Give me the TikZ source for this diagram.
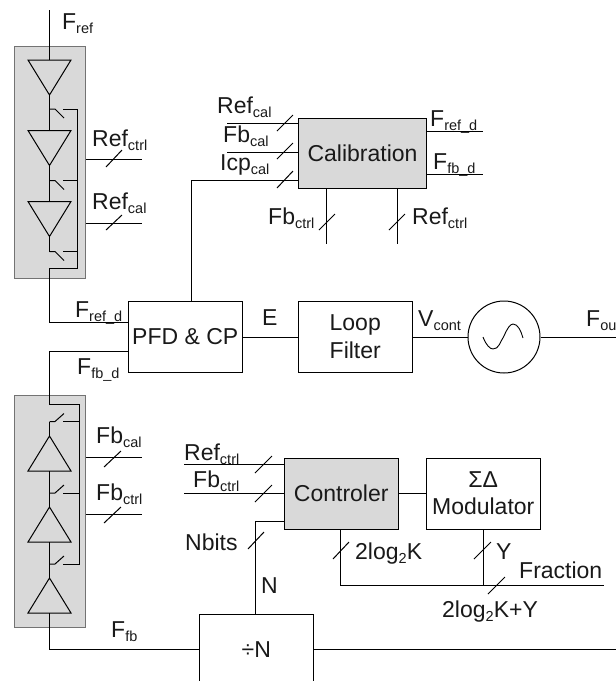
\documentclass[tikz,border=0pt]{standalone}
\usepackage{fontspec}
\setmainfont{Liberation Sans}
\usetikzlibrary{calc}
\newcommand\lowtxt[1]{\raisebox{-4.5pt}{\fontsize{14.5}{16}\selectfont #1}}
\newcommand\buffdown[3]{% name, x, top y
  \coordinate (#1-in) at (#2,#3);
  \coordinate (#1-out) at (#2,#3+35);
  \draw[gate] (#2-21.5,#3) -- (#2+21.5,#3) -- (#1-out) -- cycle;}
\newcommand\buffup[3]{% name, x, top y
  \coordinate (#1-out) at (#2,#3);
  \coordinate (#1-in) at (#2,#3+35);
  \draw[gate] (#2-21.5,#3+35) -- (#2+21.5,#3+35) -- (#1-out) -- cycle;}
\newcommand\switchdown[3]{% stem x, y, bus x
  \draw[wire] (#1,#2) -- (#1+5.5,#2) -- (#1+14.5,#2+9);
  \draw[wire] (#1+13.5,#2) -- (#3,#2);}
\newcommand\switchup[3]{%
  \draw[wire] (#1,#2) -- (#1+5.5,#2) -- (#1+14.5,#2-8);
  \draw[wire] (#1+13.5,#2) -- (#3,#2);}
\newcommand\buslabel[3]{\node[lab,anchor=base west] at (#1,#2) {#3};}
\begin{document}
\begin{tikzpicture}[x=1pt,y=-1pt,
  wire/.style={draw=black,line width=1pt},
  gate/.style={draw=black,line width=1pt},
  tick/.style={draw=black,line width=1pt},
  lab/.style={inner sep=0pt,font=\fontsize{23}{26}\selectfont,text=black!90},
  box/.style={draw=black,line width=1pt,fill=white,inner sep=0pt,minimum width=113.5pt,minimum height=71pt,anchor=north west,align=center,font=\fontsize{23}{26}\selectfont,text=black!90},
  graybox/.style={box,fill=black!15},
  panel/.style={draw=black!55,line width=1.2pt,fill=black!15,inner sep=0pt,minimum width=71pt,anchor=north west}]
\useasboundingbox (0,0) rectangle (616,681);
\clip (0,0) rectangle (616,681);

% --- panels
\node[panel,minimum height=232.5pt] (refpanel) at (14,45.5) {};
\node[panel,minimum height=232pt] (fbpanel) at (14,395) {};

% --- blocks
\node[box] (pfd) at (128,301) {PFD \& CP};
\node[box] (loop) at (298,301) {Loop\\[2pt]Filter};
\node[draw=black,line width=1pt,circle,minimum size=72pt,inner sep=0pt] (vco) at (504,337) {};
\node[graybox,minimum width=128pt,minimum height=70pt] (cal) at (298,118) {Calibration};
\node[graybox,minimum height=71pt] (ctl) at (284,457.5) {Controler};
\node[box] (mod) at (426,457.5) {ΣΔ\\[1pt]Modulator};
\node[box] (div) at (199,613.5) {÷N};

% --- free ends
\coordinate (frefin) at (49.5,10);
\coordinate (foutend) at (616,337);
\coordinate (divout) at (616,649);
\coordinate (refbus) at (77.5,109);
\coordinate (refbusend) at (77.5,268);
\coordinate (refstem) at (49.5,268);
\coordinate (fbbus) at (79.5,404.5);
\coordinate (fbbusend) at (79.5,564);
\coordinate (fbstem) at (49.5,404.5);
\coordinate (rc1) at (142,159);
\coordinate (rc2) at (142,223);
\coordinate (fc1) at (142,457.5);
\coordinate (fc2) at (142,514);
\coordinate (calL1) at (227,123.5);
\coordinate (calL2) at (227,152);
\coordinate (calR1) at (483,131.5);
\coordinate (calR2) at (483,174);
\coordinate (calD1) at (326.5,244);
\coordinate (calD2) at (397.5,244);
\coordinate (ctlL1) at (184,464.5);
\coordinate (ctlL2) at (184,493);
\coordinate (fracj) at (340.5,585);
\coordinate (fracm) at (483,585);
\coordinate (fracend) at (604,585);

% --- reference chain
\buffdown{ra}{49.5}{60}
\buffdown{rb}{49.5}{130.5}
\buffdown{rc}{49.5}{201.5}
\draw[wire] (frefin) -- (ra-in);
\draw[wire] (ra-out) -- (rb-in);
\draw[wire] (rb-out) -- (rc-in);
\draw[wire] (rc-out) -- (49.5,251.5);
\switchdown{49.5}{109}{77.5}
\switchdown{49.5}{180.5}{77.5}
\switchdown{49.5}{251.5}{77.5}
\draw[wire] (refbus) -- (refbusend) -- (refstem) |- (pfd.west |- 0,322);
\draw[wire] (refpanel.east |- rc1) -- (rc1);
\draw[wire] (refpanel.east |- rc2) -- (rc2);
\draw[tick] (106,167) -- (122,150);
\draw[tick] (106,230) -- (122,215);

% --- feedback chain
\buffup{fa}{49.5}{436}
\buffup{fb}{49.5}{507}
\buffup{fc}{49.5}{578}
\draw[wire] (pfd.west |- 0,351) -| (fbstem) -- (fbbus) -- (fbbusend);
\draw[wire] (49.5,421.5) -- (fa-out);
\draw[wire] (fa-in) -- (fb-out);
\draw[wire] (fb-in) -- (fc-out);
\switchup{49.5}{421.5}{79.5}
\switchup{49.5}{493}{79.5}
\switchup{49.5}{564}{79.5}
\draw[wire] (fc-in) |- (div.west |- 0,649);
\draw[wire] (fbpanel.east |- fc1) -- (fc1);
\draw[wire] (fbpanel.east |- fc2) -- (fc2);
\draw[tick] (104,467) -- (121,451);
\draw[tick] (104,523) -- (121,507);

% --- main path
\draw[wire] (pfd.east) -- (loop.west);
\draw[wire] (loop.east) -- (vco.west);
\draw[wire] (vco.east) -- (foutend);
\draw[line width=.9pt] (483,337) .. controls (486,345) and (490,349) .. (493,349)
  .. controls (499,349) and (500,342) .. (504,336)
  .. controls (507,329) and (510,324) .. (513,324)
  .. controls (518,324) and (521,331) .. (523,338);

% --- calibration
\draw[wire] (pfd.north -| 191.5,0) -- (191.5,180.5) -- (cal.west |- 0,180.5);
\draw[wire] (calL1) -- (cal.west |- calL1);
\draw[wire] (calL2) -- (cal.west |- calL2);
\draw[wire] (cal.east |- calR1) -- (calR1);
\draw[wire] (cal.east |- calR2) -- (calR2);
\draw[wire] (cal.south -| calD1) -- (calD1);
\draw[wire] (cal.south -| calD2) -- (calD2);
\draw[tick] (277,131) -- (293,115);
\draw[tick] (277,159) -- (293,143);
\draw[tick] (277,188) -- (293,171);
\draw[tick] (319,230) -- (335,214);
\draw[tick] (389,230) -- (405,214);

% --- controller
\draw[wire] (ctlL1) -- (ctl.west |- ctlL1);
\draw[wire] (ctlL2) -- (ctl.west |- ctlL2);
\draw[wire] (ctl.west |- 0,521.5) -- (255,521.5) -- (div.north -| 255,0);
\draw[wire] (ctl.east |- 0,493) -- (mod.west |- 0,493);
\draw[wire] (ctl.south -| fracj) -- (fracj) -- (fracend);
\draw[wire] (mod.south -| fracm) -- (fracm);
\draw[wire] (div.east |- divout) -- (divout);
\draw[tick] (255,473) -- (272,456);
\draw[tick] (255,502) -- (272,485);
\draw[tick] (248,549) -- (264,532);
\draw[tick] (333,559) -- (349,542);
\draw[tick] (474,559) -- (491,542);
\draw[tick] (488,594) -- (505,577);

% --- labels
\buslabel{62}{29}{F\lowtxt{ref}}
\buslabel{92}{146}{Ref\lowtxt{ctrl}}
\buslabel{92}{209}{Ref\lowtxt{cal}}
\buslabel{75}{317}{F\lowtxt{ref\_d}}
\buslabel{77}{374}{F\lowtxt{fb\_d}}
\buslabel{96}{443}{Fb\lowtxt{cal}}
\buslabel{96}{500}{Fb\lowtxt{ctrl}}
\buslabel{111}{637}{F\lowtxt{fb}}
\buslabel{217}{113}{Ref\lowtxt{cal}}
\buslabel{223}{142}{Fb\lowtxt{cal}}
\buslabel{220}{170}{Icp\lowtxt{cal}}
\buslabel{430}{126}{F\lowtxt{ref\_d}}
\buslabel{433}{169}{F\lowtxt{fb\_d}}
\buslabel{268}{224}{Fb\lowtxt{ctrl}}
\buslabel{412}{224}{Ref\lowtxt{ctrl}}
\buslabel{262}{325}{E}
\buslabel{418}{326}{V\lowtxt{cont}}
\buslabel{586}{326}{F\lowtxt{ou}}
\buslabel{184}{460}{Ref\lowtxt{ctrl}}
\buslabel{193}{487}{Fb\lowtxt{ctrl}}
\buslabel{185}{550}{Nbits}
\buslabel{261}{593}{N}
\buslabel{355}{559}{2log\lowtxt{2}K}
\buslabel{496}{559}{Y}
\buslabel{519}{578}{Fraction}
\buslabel{442}{617}{2log\lowtxt{2}K+Y}
\end{tikzpicture}
\end{document}
